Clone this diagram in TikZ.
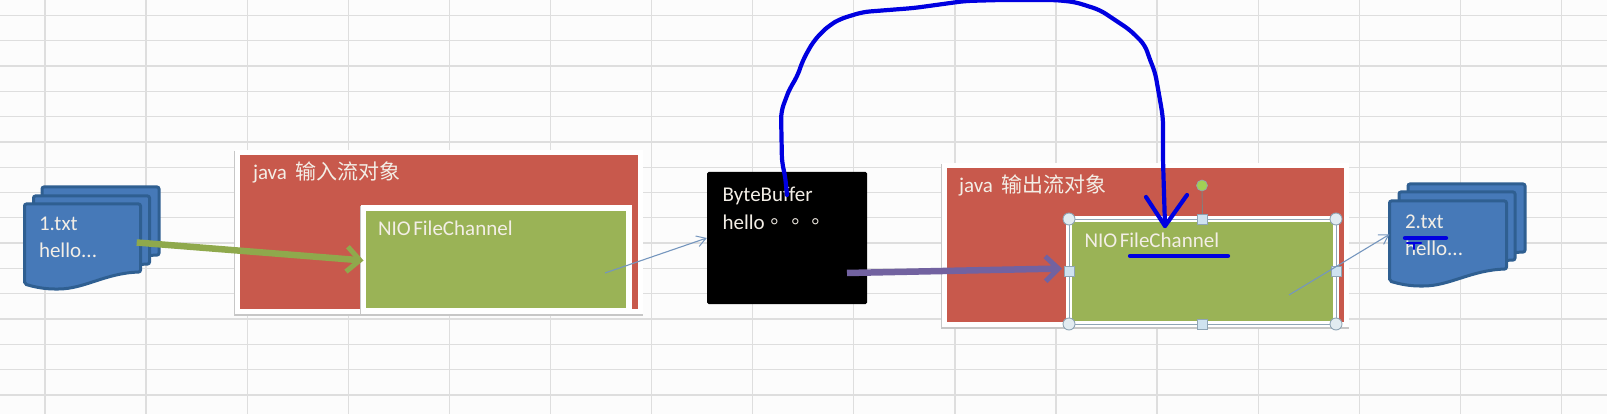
\documentclass[tikz,border=0pt]{standalone}
\usepackage{fontspec}
\setmainfont{Carlito}
\newfontfamily\cjkfont{Noto Sans CJK SC}
\newfontfamily\cjktc{Noto Sans CJK TC}
\usetikzlibrary{arrows.meta}
\definecolor{gridc}{HTML}{DEDEDE}
\definecolor{redc}{HTML}{C8594C}
\definecolor{greenc}{HTML}{9AB356}
\definecolor{docfill}{HTML}{4679B8}
\definecolor{docline}{HTML}{2F5F91}
\definecolor{arrowgreen}{HTML}{8FA94C}
\definecolor{arrowpurple}{HTML}{7262A0}
\definecolor{thinblue}{HTML}{7596BE}
\definecolor{inkblue}{HTML}{0000E0}
\definecolor{labelc}{HTML}{F3EEE6}
\definecolor{handleline}{HTML}{8FA5B5}
\definecolor{rotgreen}{HTML}{A2CF55}
\definecolor{HandleFill}{HTML}{E2ECF1}
\definecolor{HandleFillB}{HTML}{CFE3F0}
\tikzset{
  x=1pt,y=-1pt,
  gridline/.style={draw=gridc,line width=1.3pt},
  framebox/.style={rectangle,inner sep=0pt,outer sep=0pt,draw=white,line width=5pt,
    preaction={draw=black!22,line width=6.5pt,transform canvas={yshift=-1.5pt}}},
  docpagestyle/.style={draw=docline,fill=docfill,line width=3pt,rounded corners=2pt},
  doclabel/.style={anchor=base west,inner sep=0pt,outer sep=0pt,text=labelc,font=\fontsize{21}{25}\selectfont},
  thick arrow/.style={line width=6.5pt,-{Straight Barb[length=13pt,width=25pt,line width=5pt]}},
  thin arrow/.style={draw=thinblue,line width=1.1pt,-{Straight Barb[length=9pt,width=11pt,line width=1pt]}},
  ink/.style={draw=inkblue,line width=4.2pt,line cap=round,line join=round},
  round handle/.style={circle,draw=handleline,fill=HandleFill,line width=.9pt,minimum size=12pt,inner sep=0pt},
  square handle/.style={rectangle,draw=handleline,fill=HandleFillB,line width=.9pt,minimum size=10pt,inner sep=0pt}
}
\newcommand{\docpage}[3]{%
  \draw[docpagestyle,shift={(#1,#2)}] (0,0) -- (#3,0) -- (#3,68)
    .. controls (#3-35,69) and (60,85) .. (32,85)
    .. controls (20,85) and (10,83) .. (0,80) -- cycle;}
\newcommand{\cjksized}[1]{{\cjkfont\fontsize{21}{25}\selectfont #1}}
\begin{document}
\begin{tikzpicture}
\useasboundingbox (0,0) rectangle (1607,414);
\fill[white!99!black] (0,0) rectangle (1607,414);
% spreadsheet grid
\foreach \k in {0,...,15} \draw[gridline] ({45+101.1*\k},0) -- ({45+101.1*\k},414);
\foreach \k in {0,...,15} \draw[gridline] (0,{15.4+25.3*\k}) -- (1607,{15.4+25.3*\k});

% left document stack
\docpage{42}{187}{117}
\docpage{33.5}{196}{116}
\docpage{24.5}{204}{116}
\node[minimum width=116pt,minimum height=85pt,inner sep=0pt] (docA) at (82.5,246.5) {};
\node[doclabel] (docAa) at (39,231) {1.txt};
\node[doclabel] (docAb) at (39,257.5) {hello...};

% input stream box
\node[framebox,fill=redc,minimum width=402.5pt,minimum height=158.5pt] (redA) at (438.75,232.25) {};
\node[doclabel] (redAt) at (253,180) {java\hspace{9pt}\cjksized{输入流对象}};
\node[framebox,line width=5.5pt,fill=greenc,minimum width=265.5pt,minimum height=103pt] (greenA) at (496.25,259.5) {};
\node[doclabel] (greenAt) at (378,235.7) {NIO\hspace{2.5pt}FileChannel};

% byte buffer
\node[rectangle,fill=black,rounded corners=1.5pt,minimum width=160pt,minimum height=132pt,inner sep=0pt] (buffer) at (787,238) {};
\node[doclabel] (bufferA) at (722.6,202) {ByteBuffer};
\node[doclabel] (bufferB) at (722.6,229.5) {hello{\cjktc\fontsize{20.5}{25}\selectfont 。。。}};

% output stream box
\node[framebox,fill=redc,minimum width=401.5pt,minimum height=158.5pt] (redB) at (1145.25,244.75) {};
\node[doclabel] (redBt) at (959,193) {java\hspace{9pt}\cjksized{输出流对象}};
\node[rectangle,inner sep=0pt,outer sep=0pt,fill=greenc,draw=white,line width=6pt,minimum width=267pt,minimum height=105pt] (greenB) at (1202.5,271.5) {};
\draw[draw=handleline,line width=.7pt] (greenB.north west) rectangle (greenB.south east);
\node[doclabel] (greenBt) at (1084.5,248) {NIO\hspace{2.5pt}FileChannel};

% right document stack
\docpage{1408}{184}{117}
\docpage{1399}{192}{116}
\docpage{1389.5}{201}{117}
\node[minimum width=117pt,minimum height=85pt,inner sep=0pt] (docB) at (1448,243.5) {};
\node[doclabel] (docBa) at (1405,229) {2.txt};
\node[doclabel] (docBb) at (1405,255) {hello...};

% selection handles
\node[circle,draw=handleline,fill=rotgreen,line width=.6pt,minimum size=11pt,inner sep=0pt] (rot) at (1202,185.5) {};
\draw[draw=gray,line width=.9pt] (rot) -- (greenB.north);
\foreach \a/\n in {north west/hnw,north east/hne,south west/hsw,south east/hse}
  \node[round handle] (\n) at (greenB.\a) {};
\foreach \a/\n in {north/hn,south/hs,west/hw,east/he}
  \node[square handle] (\n) at (greenB.\a) {};

% connectors
\coordinate (greenAout) at (605,273);
\coordinate (bufferOut) at (847,273);
\coordinate (greenBout) at (1289,295);
\draw[thick arrow,draw=arrowgreen] (docA.east) ++(-4,-4) -- ([yshift=-1pt]greenA.west);
\draw[thin arrow] (greenAout) -- (buffer.west);
\draw[thick arrow,draw=arrowpurple] (bufferOut) -- ([xshift=-7pt,yshift=3pt]greenB.west);
\draw[thin arrow] (greenBout) -- ([yshift=9pt]docB.west);

% hand-drawn ink
\coordinate (inkStart) at (787,195);
\coordinate (inkEnd) at (1165,226);
\draw[ink,rounded corners=7pt] (inkStart) -- (785,175) -- (782,163) -- (781,112) -- (786,98) -- (790,88) -- (797,77)
  -- (803,60) -- (813,42) -- (822,32) -- (830,25) -- (840,19) -- (863,12) -- (914,8) -- (965,1)
  -- (1000,0) -- (1055,0) -- (1075,2) -- (1100,10) -- (1130,30) -- (1145,45) -- (1150,60)
  -- (1155,72) -- (1160,100) -- (1163,118) -- (1163,160) -- (inkEnd);
\draw[ink] (1146,197) -- (inkEnd) -- (1187,195);
\draw[ink] (1130,256) -- (1228,256);
\draw[ink] (1405,238) -- (1446,238);
\draw[ink,line width=2.5pt] (1407,243) -- (1421,243);
\draw[ink,line width=2.5pt] (1414,243) -- (1414,249);
\end{tikzpicture}
\end{document}
